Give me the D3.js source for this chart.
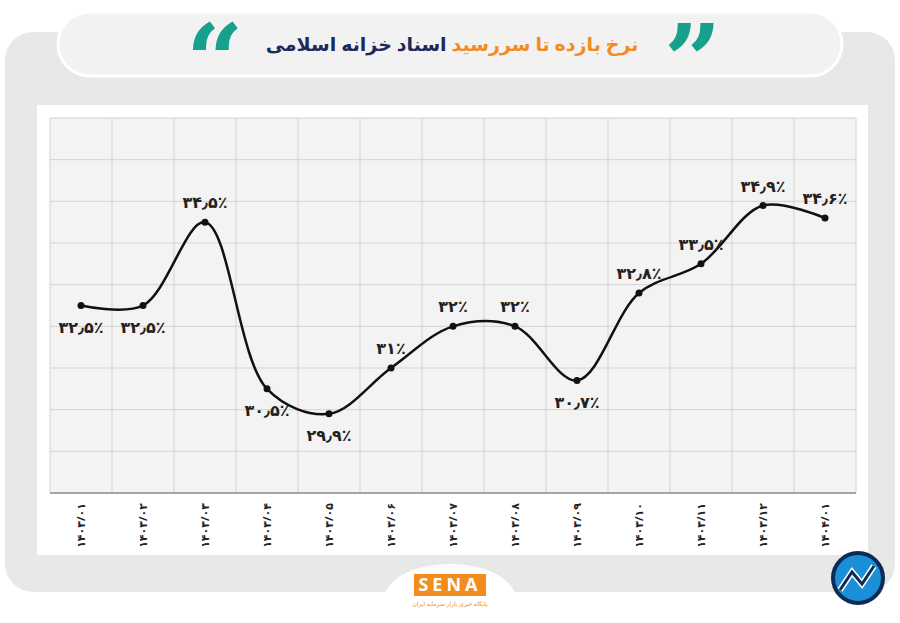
<!DOCTYPE html><html><head><meta charset="utf-8"><script src="https://cdn.jsdelivr.net/npm/d3@7"></script>
<style>body{margin:0;background:#fff}</style></head><body><svg id="c" width="900" height="623"></svg><script>
const categories=["۱۴۰۳/۰۱","۱۴۰۳/۰۲","۱۴۰۳/۰۳","۱۴۰۳/۰۴","۱۴۰۳/۰۵","۱۴۰۳/۰۶","۱۴۰۳/۰۷","۱۴۰۳/۰۸","۱۴۰۳/۰۹","۱۴۰۳/۱۰","۱۴۰۳/۱۱","۱۴۰۳/۱۲","۱۴۰۴/۰۱"];
const values=[32.5,32.5,34.5,30.5,29.9,31,32,32,30.7,32.8,33.5,34.9,34.6];
const labels=["۳۲٫۵٪","۳۲٫۵٪","۳۴٫۵٪","۳۰٫۵٪","۲۹٫۹٪","۳۱٪","۳۲٪","۳۲٪","۳۰٫۷٪","۳۲٫۸٪","۳۳٫۵٪","۳۴٫۹٪","۳۴٫۶٪"];
const labelBelow=[1,1,0,1,1,0,0,0,1,0,0,0,0];
const yTicks=[28,29,30,31,32,33,34,35,36,37];
const svg=d3.select("#c");
const F="'Noto Sans','DejaVu Sans',sans-serif";
svg.append("rect").attr("x",5).attr("y",32).attr("width",890).attr("height",560).attr("rx",28).attr("fill","#e8e8e8");
svg.append("rect").attr("x",37).attr("y",105).attr("width",831).attr("height",450).attr("fill","#fff");
svg.append("rect").attr("x",58).attr("y",12).attr("width",784).attr("height",64).attr("rx",32).attr("fill","#f2f2f2").attr("stroke","#fff").attr("stroke-width",3);
svg.append("ellipse").attr("cx",450).attr("cy",600).attr("rx",66).attr("ry",36).attr("fill","#fff");
const t=svg.append("text").attr("x",452).attr("y",51).attr("text-anchor","middle").attr("direction","rtl").attr("font-family",F).attr("font-weight","bold").attr("font-size",19);
t.append("tspan").attr("fill","#f28c1e").text("نرخ بازده تا سررسید ");
t.append("tspan").attr("fill","#1f2a5a").text("اسناد خزانه اسلامی");
svg.append("text").attr("x",664).attr("y",95).attr("font-size",100).attr("font-weight","bold").attr("fill","#17a08c").attr("font-family","Georgia,'DejaVu Serif',serif").text("\u201D");
svg.append("text").attr("x",186).attr("y",95).attr("font-size",100).attr("font-weight","bold").attr("fill","#17a08c").attr("font-family","Georgia,'DejaVu Serif',serif").text("\u201C");
const x=d3.scaleBand().domain(categories).range([50,856]);
const y=d3.scaleLinear().domain([28,37]).range([493,118]);
const g=svg.append("g");
g.append("rect").attr("x",50).attr("y",118).attr("width",806).attr("height",375).attr("fill","#f3f3f3");
g.selectAll(".h").data(yTicks).join("line").attr("x1",50).attr("x2",856).attr("y1",d=>y(d)).attr("y2",d=>y(d)).attr("stroke","#d3d3d3");
const vx=categories.map(c=>x(c)).concat([856]);
g.selectAll(".v").data(vx).join("line").attr("x1",d=>d).attr("x2",d=>d).attr("y1",118).attr("y2",493).attr("stroke","#d3d3d3");
g.append("line").attr("x1",50).attr("x2",856).attr("y1",493).attr("y2",493).attr("stroke","#666");
const cx=i=>x(categories[i])+x.bandwidth()/2;
const line=d3.line().x((d,i)=>cx(i)).y(d=>y(d)).curve(d3.curveCatmullRom.alpha(0.5));
g.append("path").attr("d",line(values)).attr("fill","none").attr("stroke","#111").attr("stroke-width",2.5);
g.selectAll(".p").data(values).join("circle").attr("cx",(d,i)=>cx(i)).attr("cy",d=>y(d)).attr("r",3.5).attr("fill","#111");
g.selectAll(".l").data(values).join("text").attr("x",(d,i)=>cx(i)).attr("y",(d,i)=>labelBelow[i]?y(d)+27:y(d)-14)
 .attr("text-anchor","middle").attr("font-family",F).attr("font-weight","bold").attr("font-size",16).attr("fill","#222").text((d,i)=>labels[i]);
g.selectAll(".xl").data(categories).join("text").attr("transform",(d,i)=>`translate(${cx(i)+4},503) rotate(-90)`)
 .attr("text-anchor","end").attr("font-family",F).attr("font-weight","bold").attr("font-size",11).attr("fill","#222").text(d=>d);
svg.append("rect").attr("x",414).attr("y",574).attr("width",72).attr("height",22).attr("fill","#f28c1e");
svg.append("text").attr("x",450).attr("y",591).attr("text-anchor","middle").attr("fill","#fff").attr("font-family",F).attr("font-weight","bold").attr("font-size",18).attr("letter-spacing",4).text("SENA");
svg.append("text").attr("x",450).attr("y",606).attr("text-anchor","middle").attr("fill","#f28c1e").attr("font-family",F).attr("font-size",6).text("پایگاه خبری بازار سرمایه ایران");
svg.append("circle").attr("cx",858).attr("cy",578).attr("r",25).attr("fill","#1b8fd8").attr("stroke","#0a2c55").attr("stroke-width",4);
svg.append("path").attr("d","M840,590 L852,572 L862,584 L874,566").attr("fill","none").attr("stroke","#fff").attr("stroke-width",6);
svg.append("path").attr("d","M840,590 L852,572 L862,584 L874,566").attr("fill","none").attr("stroke","#0a2c55").attr("stroke-width",3);
</script></body></html>
